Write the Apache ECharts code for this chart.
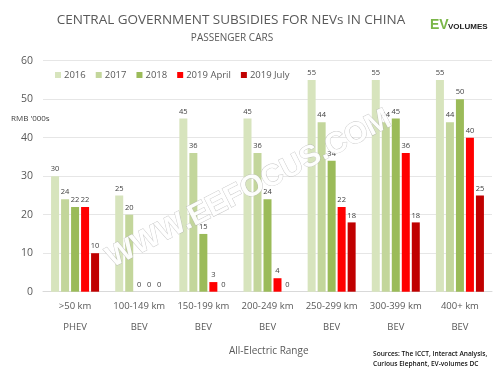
<!DOCTYPE html>
<html><head><meta charset="utf-8">
<script src="https://cdn.jsdelivr.net/npm/echarts@6/dist/echarts.min.js"></script>
<style>html,body{margin:0;padding:0;background:#fff}#c{width:500px;height:379px}</style>
</head><body><div id="c"></div>
<script>
const ranges = ['>50 km','100-149 km','150-199 km','200-249 km','250-299 km','300-399 km','400+ km'];
const types = ['PHEV','BEV','BEV','BEV','BEV','BEV','BEV'];
const seriesNames = ['2016','2017','2018','2019 April','2019 July'];
const s2016 = [30,25,45,45,55,55,55];
const s2017 = [24,20,36,36,44,44,44];
const s2018 = [22,0,15,24,34,45,50];
const sApr = [22,0,2.5,3.5,22,36,40];
const sJul = [10,0,0,0,18,18,25];
const yTicks = [0,10,20,30,40,50,60];
const colors = ['#d7e4bd','#c3d69b','#9bbb59','#ff0000','#c00000'];
const values = [s2016,s2017,s2018,sApr,sJul];

const chart = echarts.init(document.getElementById('c'));
const font = '"Open Sans", "Noto Sans", sans-serif';
const narrow = '"Liberation Sans Narrow", "Liberation Sans", sans-serif';
chart.setOption({
  animation:false,
  textStyle:{fontFamily:font},
  title:[
    {text:'CENTRAL GOVERNMENT SUBSIDIES FOR NEVs IN CHINA',left:226,top:8,textAlign:'center',
     textStyle:{fontSize:13.5,fontWeight:'normal',color:'#595959',fontFamily:font}},
    {text:'PASSENGER CARS',left:227,top:28,textAlign:'center',
     textStyle:{fontSize:10,fontWeight:'normal',color:'#595959',fontFamily:font}}
  ],
  legend:{left:50,top:65,itemWidth:6,itemHeight:6,itemGap:10,icon:'rect',
    textStyle:{fontSize:9.5,color:'#595959',padding:[0,0,0,-2]},data:seriesNames},
  grid:{left:43,right:8,top:60.7,bottom:87.3},
  xAxis:{type:'category',data:ranges,
    axisLine:{lineStyle:{color:'#d9d9d9'}},
    axisTick:{length:41,lineStyle:{color:'#d9d9d9'}},
    axisLabel:{interval:0,margin:4,lineHeight:21,fontSize:9.5,color:'#595959',
      formatter:(v,i)=>v+'\n'+types[i]}},
  yAxis:{type:'value',min:yTicks[0],max:yTicks[yTicks.length-1],interval:10,
    axisLine:{show:false},axisTick:{show:false},
    axisLabel:{fontSize:10.5,color:'#595959',margin:10},
    splitLine:{lineStyle:{color:'#e6e6e6'}}},
  series: seriesNames.map((n,k)=>({
    name:n,type:'bar',data:values[k],barWidth:8,barGap:'25%',
    itemStyle:{color:colors[k]},
    label:{show:true,position:'top',distance:3,fontSize:7.5,color:'#404040',
      formatter:p=>Math.round(p.value)}
  })),
  graphic:[
    {type:'text',left:11,top:115,style:{text:"RMB '000s",fontSize:8,fill:'#404040',fontFamily:font}},
    {type:'text',left:229,top:346,style:{text:'All-Electric Range',fontSize:10,fill:'#595959',fontFamily:font}},
    {type:'text',left:373,top:349,style:{text:'Sources: The ICCT, Interact Analysis,\nCurious Elephant, EV-volumes DC',fontSize:6.6,fontWeight:600,lineHeight:10,fill:'#111',fontFamily:font}},
    {type:'text',left:430,top:18,style:{text:'EV',fontSize:14,fontWeight:'bold',fill:'#7ab648',fontFamily:narrow}},
    {type:'text',left:448,top:22.5,style:{text:'VOLUMES',fontSize:8,fontWeight:'bold',fill:'#222',fontFamily:narrow}},
    {type:'text',x:249,y:189,rotation:0.47,z:100,
      style:{text:'WWW.EEFOCUS.COM',fontSize:30,fontWeight:'bold',fill:'rgba(255,255,255,0.95)',
        stroke:'rgba(170,170,170,0.7)',lineWidth:0.8,align:'center',verticalAlign:'middle',
        shadowColor:'rgba(0,0,0,0.45)',shadowBlur:2,shadowOffsetX:2,shadowOffsetY:2,fontFamily:'"Liberation Sans", sans-serif'}}
  ]
});
</script></body></html>
